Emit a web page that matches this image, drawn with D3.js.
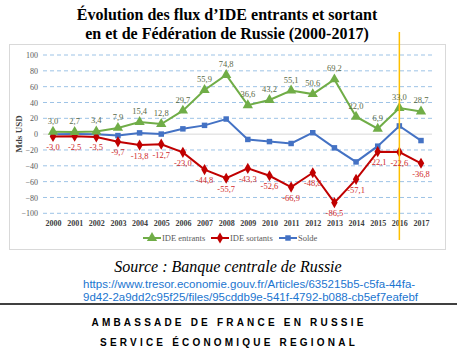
<!DOCTYPE html>
<head>
<meta charset="utf-8">
<title>Flux d'IDE - Russie</title>
<script src="https://d3js.org/d3.v7.min.js"></script>
<style>
body { margin: 0; background: #fff; }
svg { display: block; }
</style>
</head>
<body>
<div id="container"></div>
<script>
//*******************
// data
//*******************
const years = [2000, 2001, 2002, 2003, 2004, 2005, 2006, 2007, 2008,
               2009, 2010, 2011, 2012, 2013, 2014, 2015, 2016, 2017];
const entrants = [3.0, 2.7, 3.4, 7.9, 15.4, 12.8, 29.7, 55.9, 74.8,
                  36.6, 43.2, 55.1, 50.6, 69.2, 22.0, 6.9, 33.0, 28.7];
const sortants = [-3.0, -2.5, -3.5, -9.7, -13.8, -12.7, -23.0, -44.8, -55.7,
                  -43.3, -52.6, -66.9, -48.8, -86.5, -57.1, -22.1, -22.6, -36.8];
const solde = [0.0, 0.2, -0.1, -1.8, 1.6, 0.1, 6.7, 11.1, 19.1,
               -6.7, -9.4, -11.8, 1.8, -17.3, -35.1, -15.2, 10.4, -8.1];
const yTicks = [-100, -80, -60, -40, -20, 0, 20, 40, 60, 80, 100];
const markYear = 2016;

//*******************
// setup svg
//*******************
const W = 457, H = 361;
const svg = d3.select("#container").append("svg")
    .attr("width", W)
    .attr("height", H);

const serif = "'Liberation Serif', 'Times New Roman', serif";
const sans = "'Liberation Sans', Arial, sans-serif";

// title
svg.append("text")
    .attr("x", 227).attr("y", 20)
    .attr("text-anchor", "middle")
    .style("font-family", serif).style("font-weight", "bold").style("font-size", "16px")
    .text("Évolution des flux d’IDE entrants et sortant");
svg.append("text")
    .attr("x", 227).attr("y", 39)
    .attr("text-anchor", "middle")
    .style("font-family", serif).style("font-weight", "bold").style("font-size", "16px")
    .text("en et de Fédération de Russie (2000-2017)");

// chart frame
svg.append("rect")
    .attr("x", 9.5).attr("y", 44.5)
    .attr("width", 436).attr("height", 205)
    .attr("fill", "#fff")
    .attr("stroke", "#d9d9d9");

//*******************
// scales
//*******************
const x = d3.scalePoint().domain(years).range([53, 421]);
const y = d3.scaleLinear().domain([-100, 100]).range([213.3, 55]);

// gridlines
svg.append("g")
  .selectAll("line")
  .data(yTicks)
  .join("line")
    .attr("x1", 43).attr("x2", 432)
    .attr("y1", d => y(d)).attr("y2", d => y(d))
    .attr("stroke", d => d === 0 ? "#d9d9d9" : "#9dc3e6")
    .attr("stroke-width", 1)
    .attr("stroke-dasharray", d => d === 0 ? null : "4,3");

// y axis
const yaxis = d3.axisLeft(y).tickValues(yTicks).tickSize(0).tickPadding(0);
svg.append("g")
    .attr("transform", "translate(38,0)")
    .call(yaxis)
    .call(g => g.select(".domain").remove())
    .selectAll("text")
    .style("font-family", serif).style("font-size", "8px").attr("fill", "#595959");

// x axis
const xaxis = d3.axisBottom(x).tickSize(0).tickPadding(0);
svg.append("g")
    .attr("transform", "translate(0,220)")
    .call(xaxis)
    .call(g => g.select(".domain").remove())
    .selectAll("text")
    .style("font-family", serif).style("font-size", "8px").style("font-weight", "bold")
    .attr("fill", "#404040");

// y label
svg.append("text")
    .attr("transform", "translate(22,134) rotate(-90)")
    .attr("text-anchor", "middle")
    .style("font-family", serif).style("font-size", "9px").style("font-weight", "bold")
    .attr("fill", "#404040")
    .text("Mds USD");

//*******************
// series
//*******************
const fmt = v => d3.format(".1f")(v).replace(".", ",").replace("−", "-");
const series = [
  { name: "IDE entrants", values: entrants, color: "#70ad47", shape: d3.symbolTriangle, size: 46 },
  { name: "IDE sortants", values: sortants, color: "#c00000", shape: d3.symbolDiamond, size: 36 },
  { name: "Solde", values: solde, color: "#4472c4", shape: d3.symbolSquare, size: 30 }
];

const line = d3.line()
    .x((d, i) => x(years[i]))
    .y(d => y(d));

// solde drawn first, then sortants, entrants on top
[series[2], series[1], series[0]].forEach(s => {
  svg.append("path")
      .attr("d", line(s.values))
      .attr("fill", "none")
      .attr("stroke", s.color)
      .attr("stroke-width", 2);
  svg.append("g")
    .selectAll("path")
    .data(s.values)
    .join("path")
      .attr("transform", (d, i) => `translate(${x(years[i])},${y(d)})`)
      .attr("d", d3.symbol(s.shape, s.size))
      .attr("fill", s.color);
});

// orange marker line
svg.append("line")
    .attr("x1", x(markYear)).attr("x2", x(markYear))
    .attr("y1", 32).attr("y2", 240)
    .attr("stroke", "#ffc000")
    .attr("stroke-width", 1.5);

// data labels
svg.append("g")
  .selectAll("text")
  .data(entrants)
  .join("text")
    .attr("x", (d, i) => x(years[i]))
    .attr("y", d => y(d) - 8)
    .attr("text-anchor", "middle")
    .style("font-family", serif).style("font-size", "8.5px")
    .attr("fill", "#5a6b48")
    .text(fmt);

svg.append("g")
  .selectAll("text")
  .data(sortants)
  .join("text")
    .attr("x", (d, i) => x(years[i]))
    .attr("y", d => y(d) + 13.5)
    .attr("text-anchor", "middle")
    .style("font-family", serif).style("font-size", "8.5px")
    .attr("fill", "#d02a2a")
    .text(fmt);

//*******************
// legend
//*******************
const legendX = [143, 211, 279];
series.forEach((s, i) => {
  const g = svg.append("g").attr("transform", `translate(${legendX[i]},238)`);
  g.append("line").attr("x1", 0).attr("x2", 18).attr("stroke", s.color).attr("stroke-width", 2);
  g.append("path").attr("transform", "translate(9,0)").attr("d", d3.symbol(s.shape, s.size)).attr("fill", s.color);
  g.append("text")
      .attr("x", 19).attr("y", 3)
      .style("font-family", serif).style("font-size", "8.5px")
      .attr("fill", "#595959")
      .text(s.name);
});

//*******************
// footer
//*******************
svg.append("text")
    .attr("x", 228).attr("y", 272)
    .attr("text-anchor", "middle")
    .style("font-family", serif).style("font-style", "italic").style("font-size", "16px")
    .text("Source : Banque centrale de Russie");

svg.append("text")
    .attr("x", 83).attr("y", 288)
    .style("font-family", sans).style("font-size", "11.5px")
    .attr("fill", "#1b75d0")
    .text("https://www.tresor.economie.gouv.fr/Articles/635215b5-c5fa-44fa-");
svg.append("text")
    .attr("x", 83).attr("y", 301)
    .style("font-family", sans).style("font-size", "11.5px")
    .attr("fill", "#1b75d0")
    .text("9d42-2a9dd2c95f25/files/95cddb9e-541f-4792-b088-cb5ef7eafebf");

svg.append("line")
    .attr("x1", 0).attr("x2", W)
    .attr("y1", 304).attr("y2", 304)
    .attr("stroke", "#000").attr("stroke-width", 1.5);

svg.append("text")
    .attr("x", 229).attr("y", 326)
    .attr("text-anchor", "middle")
    .style("font-family", sans).style("font-weight", "bold").style("font-size", "10px")
    .style("letter-spacing", "3.2px")
    .text("AMBASSADE DE FRANCE EN RUSSIE");
svg.append("text")
    .attr("x", 229).attr("y", 346)
    .attr("text-anchor", "middle")
    .style("font-family", sans).style("font-weight", "bold").style("font-size", "10px")
    .style("letter-spacing", "3.2px")
    .text("SERVICE ÉCONOMIQUE REGIONAL");
</script>
</body>
